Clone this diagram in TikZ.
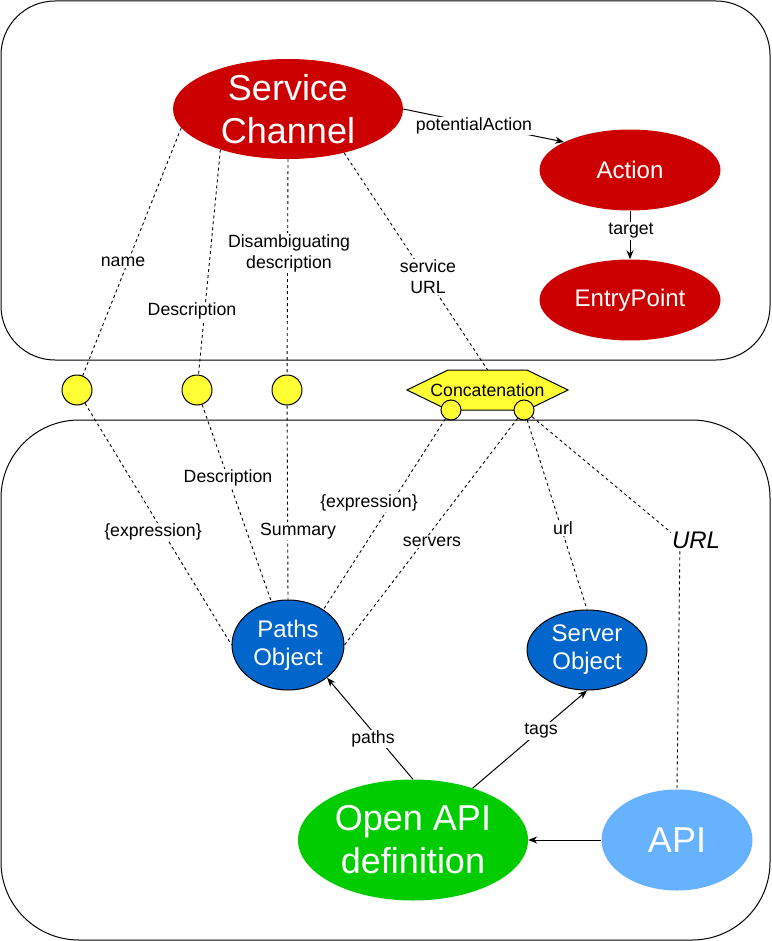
\documentclass[tikz,border=0pt]{standalone}
\usepackage{fontspec}
\setmainfont{Liberation Sans}
\usetikzlibrary{arrows.meta, shapes.geometric}
\definecolor{channelred}{HTML}{CC0000}
\definecolor{objblue}{HTML}{0066CC}
\definecolor{apigreen}{HTML}{00CC00}
\definecolor{apiblue}{HTML}{66B2FF}
\definecolor{joinyellow}{HTML}{FFFF33}

\begin{document}
\begin{tikzpicture}[
	x=1pt, y=-1pt,
	>={Stealth[length=9pt, width=7pt]},
	% Styles for the class ellipses
	redclass/.style={ellipse, fill=channelred, text=white, inner sep=0pt, align=center},
	blueclass/.style={ellipse, draw=black, line width=1pt, fill=objblue, text=white, inner sep=0pt, align=center, font=\fontsize{24}{28}\selectfont},
	apiclass/.style={ellipse, text=white, inner sep=0pt, align=center, font=\fontsize{36}{43}\selectfont},
	joinnode/.style={circle, draw=black, line width=1pt, fill=joinyellow, inner sep=0pt},
	% Styles for text and links
	labeltext/.style={fill=white, inner sep=1pt, align=center, font=\fontsize{17.7}{21}\selectfont},
	maplink/.style={dash pattern=on 3pt off 3pt, line width=0.9pt},
	rellink/.style={->, line width=1pt}
	]
	
	\useasboundingbox (0,0) rectangle (771,941);
	
	% ==========================================
	% CONTAINERS
	% ==========================================
	\draw[line width=1pt, rounded corners=54pt] (1,1) rectangle (770,360);
	\draw[line width=1pt, rounded corners=78pt] (1,420) rectangle (770,940);
	
	% ==========================================
	% TOP: SERVICE CHANNEL
	% ==========================================
	\node[redclass, minimum width=230, minimum height=100, font=\fontsize{36}{43}\selectfont] (sc) at (288,109) {Service\\Channel};
	\node[redclass, minimum width=181, minimum height=81, font=\fontsize{24}{28}\selectfont] (action) at (630,170) {Action};
	\node[redclass, minimum width=181, minimum height=81, font=\fontsize{24}{28}\selectfont] (entry) at (630,300) {EntryPoint};
	
	% ==========================================
	% MIDDLE: MAPPING POINTS
	% ==========================================
	\node[joinnode, minimum size=30] (c1) at (77,390) {};
	\node[joinnode, minimum size=30] (c2) at (197,390) {};
	\node[joinnode, minimum size=30] (c3) at (287,390) {};
	
	% Concatenation hexagon
	\draw[line width=1pt, fill=joinyellow] (407,390) -- (448,370) -- (527,370) -- (568,390) -- (527,410) -- (448,410) -- cycle;
	\node[minimum width=161, minimum height=40, inner sep=0pt, font=\fontsize{17.7}{21}\selectfont] (concat) at (487.5,390) {Concatenation};
	\node[joinnode, minimum size=20] (cc1) at (451,410) {};
	\node[joinnode, minimum size=20] (cc2) at (524,410) {};
	
	% ==========================================
	% BOTTOM: OPEN API
	% ==========================================
	\node[blueclass, minimum width=112, minimum height=90] (paths) at (288,645) {Paths\\Object};
	\node[blueclass, minimum width=120, minimum height=80] (server) at (587,650) {Server\\Object};
	\node[apiclass, fill=apigreen, minimum width=230, minimum height=121] (opendef) at (413,840) {Open API\\definition};
	\node[apiclass, fill=apiblue, minimum width=151, minimum height=101] (api) at (677,840) {API};
	\coordinate (urlbend) at (680,540);
	
	% Relations
	\draw[rellink] (sc.east) -- (action.157);
	\draw[rellink] (action.south) -- (entry.north);
	\draw[rellink] (opendef.north) -- (paths.320);
	\draw[rellink] (opendef.41) -- (server.south);
	\draw[rellink] (api.west) -- (opendef.east);
	
	% Mappings
	\draw[maplink] (sc.190) -- (c1);
	\draw[maplink] (sc.211) -- (c2);
	\draw[maplink] (sc.south) -- (c3);
	\draw[maplink] (sc.322) -- (concat.north);
	\draw[maplink] (c1) -- (paths.west);
	\draw[maplink] (c2) -- (paths.111);
	\draw[maplink] (c3) -- (paths.north);
	\draw[maplink] (cc1) -- (paths.45);
	\draw[maplink] (cc2) -- (paths.east);
	\draw[maplink] (cc2) -- (server.north);
	\draw[maplink] (cc2) -- (urlbend) -- (api.north);
	
	% Labels
	\node[labeltext] at (474,126) {potentialAction};
	\node[labeltext] at (631,231) {target};
	\node[labeltext] at (123,262) {name};
	\node[labeltext] at (192,311) {Description};
	\node[labeltext] at (289,253) {Disambiguating\\description};
	\node[labeltext] at (428,277) {service\\URL};
	\node[labeltext] at (153,532) {\{expression\}};
	\node[labeltext] at (228,478) {Description};
	\node[labeltext] at (298,531) {Summary};
	\node[labeltext] at (369,503) {\{expression\}};
	\node[labeltext] at (432,542) {servers};
	\node[labeltext] at (563,528) {url};
	\node[labeltext, font=\fontsize{24}{28}\selectfont\itshape] at (696,540) {URL};
	\node[labeltext] at (373,739) {paths};
	\node[labeltext] at (541,731) {tags};
	
\end{tikzpicture}
\end{document}
